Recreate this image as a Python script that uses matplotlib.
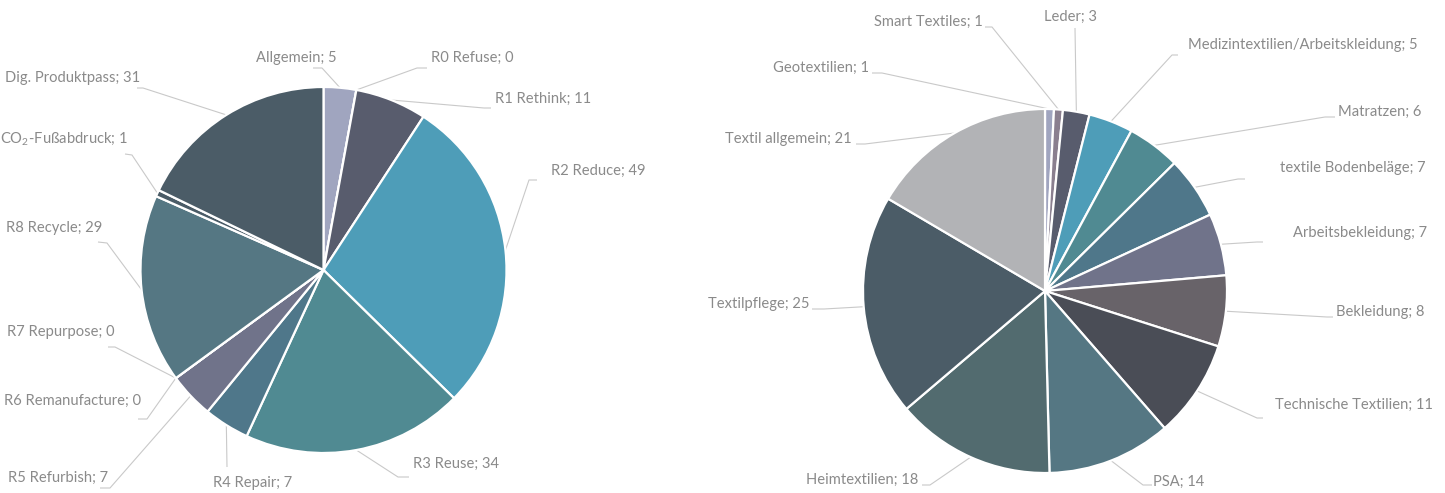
import numpy as np
import matplotlib
matplotlib.use("Agg")
import matplotlib.pyplot as plt

# ---------------- data ----------------
left_labels = ["Allgemein", "R0 Refuse", "R1 Rethink", "R2 Reduce", "R3 Reuse",
               "R4 Repair", "R5 Refurbish", "R6 Remanufacture", "R7 Repurpose",
               "R8 Recycle", "CO$_2$-Fußabdruck", "Dig. Produktpass"]
left_values = [5, 0, 11, 49, 34, 7, 7, 0, 0, 29, 1, 31]

right_labels = ["Geotextilien", "Smart Textiles", "Leder",
                "Medizintextilien/Arbeitskleidung", "Matratzen",
                "textile Bodenbeläge", "Arbeitsbekleidung", "Bekleidung",
                "Technische Textilien", "PSA", "Heimtextilien", "Textilpflege",
                "Textil allgemein"]
right_values = [1, 1, 3, 5, 6, 7, 7, 8, 11, 14, 18, 25, 21]

# ---------------- styles ----------------
left_colors = ["#a0a5bf", "#8a7f8f", "#585c6d", "#4e9db8", "#508a92", "#4f778a",
               "#70738a", "#686369", "#4a4d56", "#557783", "#4b5c67", "#4b5c67"]
right_colors = ["#a0a5bf", "#8a7f8f", "#585c6d", "#4e9db8", "#508a92", "#4f778a",
                "#70738a", "#686369", "#4a4d56", "#557783", "#526b6f", "#4b5c67",
                "#b2b3b6"]

# label layout (pixel coords): text x, text y, alignment, stub start, stub end
left_layout = [
    (337, 58, "right", (313, 68), (322, 68)),
    (431, 58, "left", (427, 68), (417, 68)),
    (495, 99, "left", (491, 108), (484, 108)),
    (551, 171, "left", (537, 180), (529, 180)),
    (413, 464, "left", (409, 477), (398, 477)),
    (213, 483, "left", (227, 467), (227, 467)),
    (108, 478, "right", (100, 488), (110, 488)),
    (141, 401, "right", (138, 419), (147, 419)),
    (115, 332, "right", (108, 347), (115, 347)),
    (102, 228, "right", (98, 242), (107, 243)),
    (128, 139, "right", (125, 154), (132, 155)),
    (140, 78, "right", (137, 88), (143, 88)),
]
right_layout = [
    (869, 68, "right", (872, 73), (882, 73)),
    (983, 22, "right", (985, 27), (992, 27)),
    (1071, 17, "center", (1075, 28), (1075, 28)),
    (1188, 45, "left", (1178, 55), (1172, 55)),
    (1338, 112, "left", (1335, 117), (1325, 117)),
    (1280, 168, "left", (1245, 179), (1238, 179)),
    (1293, 233, "left", (1263, 242), (1257, 242)),
    (1336, 312, "left", (1333, 317), (1327, 317)),
    (1275, 405, "left", (1263, 418), (1257, 418)),
    (1153, 482, "left", (1152, 485), (1143, 485)),
    (918, 480, "right", (922, 485), (930, 485)),
    (809, 304, "right", (812, 309), (824, 309)),
    (852, 139, "right", (856, 144), (865, 144)),
]

W, H = 1445, 493
TEXT_COLOR = "#8a8a8a"
LINE_COLOR = "#c9c9c9"
FONT = "Lato"

plt.rcParams["font.family"] = [FONT, "DejaVu Sans"]
plt.rcParams["mathtext.fontset"] = "custom"
plt.rcParams["mathtext.rm"] = FONT
plt.rcParams["mathtext.it"] = FONT

fig = plt.figure(figsize=(W / 100, H / 100), dpi=100)
ax = fig.add_axes([0, 0, 1, 1])


def draw_pie(values, labels, colors, layout, center, radius):
    ax.pie(values, colors=colors, center=center, radius=radius,
           startangle=-90, counterclock=True, frame=True,
           wedgeprops=dict(edgecolor="white", linewidth=1.6))
    total = float(sum(values))
    cum = np.cumsum([0] + list(values))
    for i, (lab, v) in enumerate(zip(labels, values)):
        mid = (cum[i] + v / 2.0) / total
        theta = np.deg2rad(-90 + mid * 360)
        px = center[0] + radius * np.cos(theta)
        py = center[1] + radius * np.sin(theta)
        tx, ty, ha, s0, s1 = layout[i]
        ax.plot([s0[0], s1[0], px], [s0[1], s1[1], py], color=LINE_COLOR,
                lw=0.8, solid_capstyle="butt", zorder=0)
        ax.text(tx, ty, f"{lab}; {v}", ha=ha, va="center", fontsize=10.6,
                color=TEXT_COLOR)


draw_pie(left_values, left_labels, left_colors, left_layout, (323.5, 270), 183)
draw_pie(right_values, right_labels, right_colors, right_layout, (1045, 291), 182)

ax.set_xlim(0, W)
ax.set_ylim(H, 0)
ax.axis("off")
fig.savefig("out.png", dpi=100, facecolor="white")
